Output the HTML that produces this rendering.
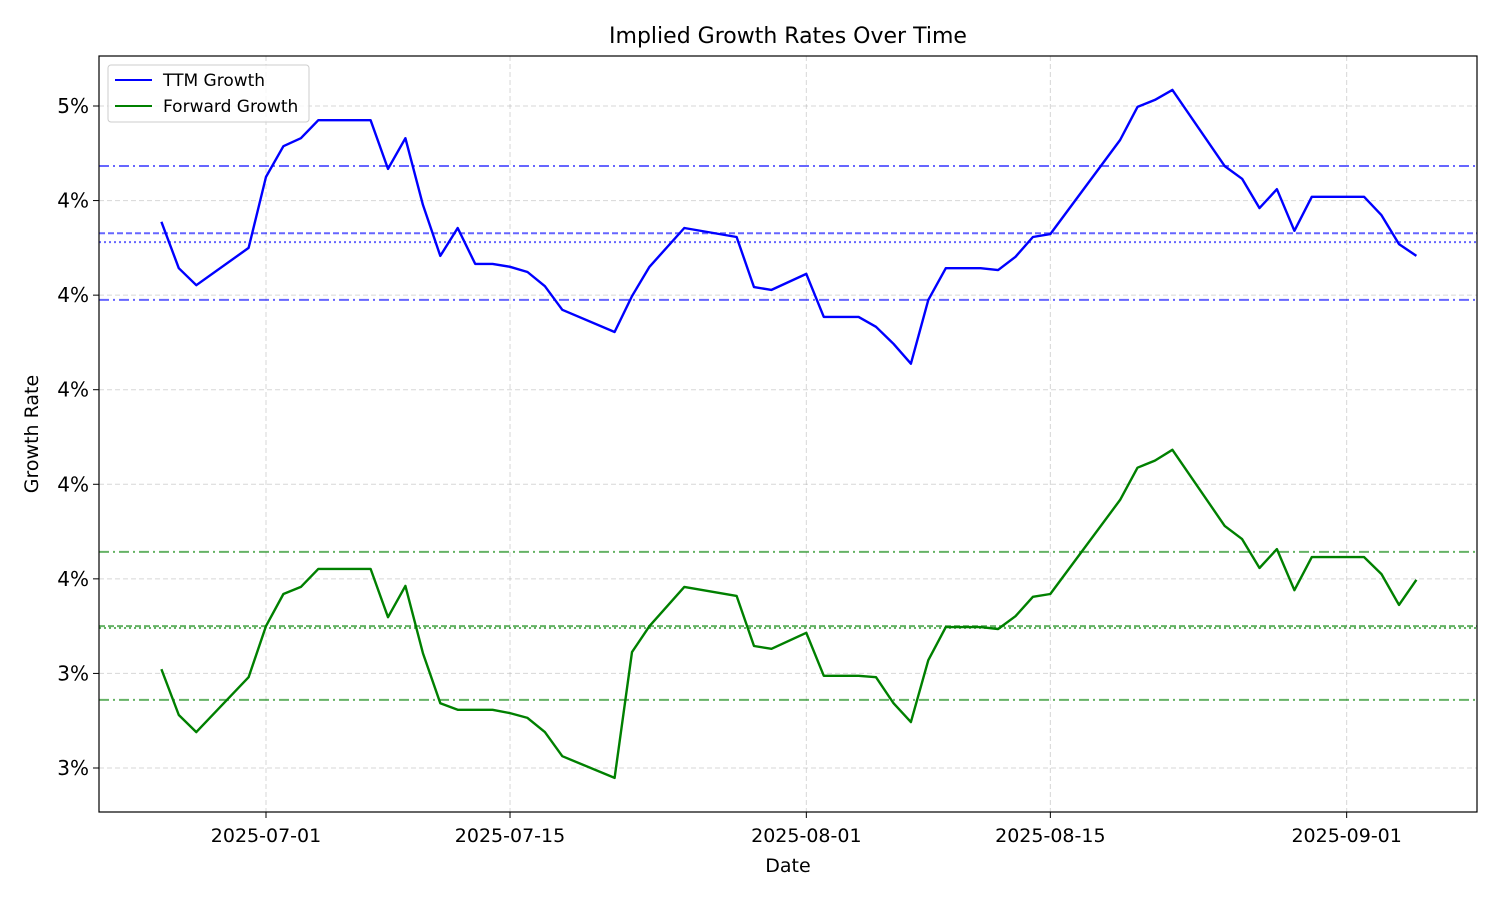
<!DOCTYPE html>
<html><head><meta charset="utf-8"><style>
body{margin:0;background:#fff;}
svg text{font-family:"DejaVu Sans","Liberation Sans",sans-serif;}
</style></head><body>
<svg id="chart" width="1500" height="900" xmlns="http://www.w3.org/2000/svg">
<rect width="1500" height="900" fill="#fff"/>
<g id="grid"></g><g id="refs"></g><g id="series"></g>
<rect x="99" y="56" width="1378" height="756" fill="none" stroke="#000" stroke-width="1.2"/>
<g id="axes"></g>
<text x="788" y="43" font-size="22" text-anchor="middle">Implied Growth Rates Over Time</text>
<text x="788" y="872" font-size="19" text-anchor="middle">Date</text>
<text x="38" y="434" font-size="19" text-anchor="middle" transform="rotate(-90 38 434)">Growth Rate</text>
<g>
<rect x="108" y="65" width="201" height="57" rx="3" fill="#fff" fill-opacity="0.8" stroke="#ccc"/>
<line x1="115" y1="80" x2="152" y2="80" stroke="#0000ff" stroke-width="2"/>
<text x="163" y="86" font-size="17">TTM Growth</text>
<line x1="115" y1="106" x2="152" y2="106" stroke="#008000" stroke-width="2"/>
<text x="163" y="112" font-size="17">Forward Growth</text>
</g>
</svg>
<script>
const dates=["2025-06-25","2025-06-26","2025-06-27","2025-06-30","2025-07-01","2025-07-02","2025-07-03","2025-07-04","2025-07-07","2025-07-08","2025-07-09","2025-07-10","2025-07-11","2025-07-12","2025-07-13","2025-07-14","2025-07-15","2025-07-16","2025-07-17","2025-07-18","2025-07-21","2025-07-22","2025-07-23","2025-07-25","2025-07-28","2025-07-29","2025-07-30","2025-08-01","2025-08-02","2025-08-04","2025-08-05","2025-08-06","2025-08-07","2025-08-08","2025-08-09","2025-08-11","2025-08-12","2025-08-13","2025-08-14","2025-08-15","2025-08-19","2025-08-20","2025-08-21","2025-08-22","2025-08-25","2025-08-26","2025-08-27","2025-08-28","2025-08-29","2025-08-30","2025-09-02","2025-09-03","2025-09-04","2025-09-05"];
const ttm=[4.355,4.257,4.221,4.300,4.450,4.515,4.532,4.570,4.570,4.467,4.532,4.391,4.283,4.342,4.266,4.266,4.260,4.249,4.219,4.169,4.122,4.198,4.260,4.342,4.323,4.217,4.211,4.245,4.154,4.154,4.133,4.097,4.055,4.190,4.257,4.257,4.253,4.281,4.323,4.329,4.528,4.598,4.613,4.634,4.473,4.446,4.384,4.424,4.336,4.408,4.408,4.369,4.308,4.283];
const fwd=[3.409,3.312,3.276,3.392,3.500,3.568,3.583,3.621,3.621,3.519,3.585,3.443,3.337,3.323,3.323,3.323,3.316,3.306,3.276,3.225,3.179,3.445,3.500,3.583,3.564,3.458,3.452,3.486,3.395,3.395,3.392,3.337,3.297,3.428,3.498,3.498,3.494,3.521,3.562,3.568,3.767,3.835,3.850,3.873,3.712,3.684,3.623,3.663,3.576,3.646,3.646,3.610,3.545,3.598];
const ttmRefs=[4.473,4.190,4.331,4.312];
const fwdRefs=[3.657,3.344,3.500,3.496];
const yTicks=[4.6,4.4,4.2,4.0,3.8,3.6,3.4,3.2];
const xTicks=["2025-07-01","2025-07-15","2025-08-01","2025-08-15","2025-09-01"];
const NS="http://www.w3.org/2000/svg";
const day0=Date.UTC(2025,6,1);
function dnum(s){const p=s.split('-');return (Date.UTC(+p[0],+p[1]-1,+p[2])-day0)/86400000;}
function X(s){return 266+dnum(s)*17.43;}
function Y(v){return 106+(4.6-v)/0.2*94.57;}
function mk(t,a,parent){const e=document.createElementNS(NS,t);for(const k in a)e.setAttribute(k,a[k]);document.getElementById(parent).appendChild(e);return e;}
yTicks.forEach(v=>{const y=Y(v);
 let g=mk('line',{x1:99,x2:1477,y1:y,y2:y,stroke:'#b0b0b0','stroke-opacity':0.5,'stroke-dasharray':'5,3'},'grid');
 
 
 mk('line',{x1:93,x2:99,y1:y,y2:y,stroke:'#000'},'axes');
 let t=mk('text',{x:89,y:y+7,'font-size':20,'text-anchor':'end'},'axes');t.textContent=Math.round(v)+'%';
 
 
});
xTicks.forEach(s=>{const x=X(s);
 let g=mk('line',{x1:x,x2:x,y1:56,y2:812,stroke:'#b0b0b0','stroke-opacity':0.5,'stroke-dasharray':'5,3'},'grid');
 
 
 mk('line',{x1:x,x2:x,y1:812,y2:818,stroke:'#000'},'axes');
 let t=mk('text',{x:x,y:842,'font-size':19,'text-anchor':'middle'},'axes');t.textContent=s;
 
 
});
const styles=['10,4,2,4','10,4,2,4','6,3','2,3'];
function refs(arr,col,name){arr.forEach((v,i)=>{const y=Y(v);
 let l=mk('line',{x1:99,x2:1477,y1:y,y2:y,stroke:col,'stroke-opacity':0.6,'stroke-width':2,'stroke-dasharray':styles[i]},'refs');
 
 
});}
refs(ttmRefs,'#0000ff','ttm-reference-line');
refs(fwdRefs,'#008000','forward-reference-line');
function line(vals,col,name){const d=vals.map((v,i)=>(i?'L':'M')+X(dates[i]).toFixed(1)+','+Y(v).toFixed(1)).join('');
 let p=mk('path',{d:d,fill:'none',stroke:col,'stroke-width':2.4,'stroke-linejoin':'round'},'series');
 
 
}
line(ttm,'#0000ff','ttm-growth-line');
line(fwd,'#008000','forward-growth-line');
</script>
</body></html>
